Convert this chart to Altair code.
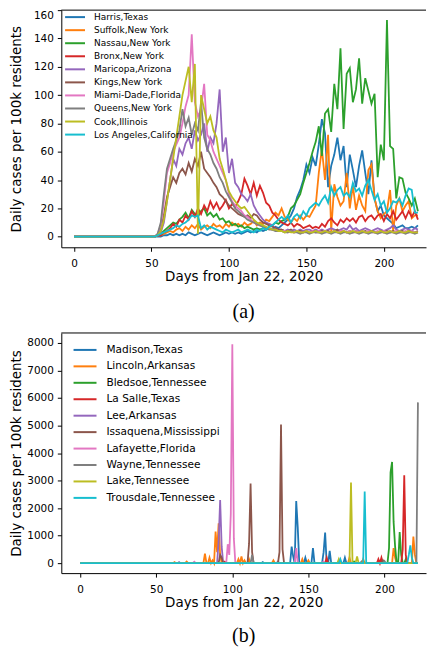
import altair as alt
import pandas as pd

# ---------------- Panel (a) data ----------------
names_a = ["Harris,Texas", "Suffolk,New York", "Nassau,New York", "Bronx,New York",
           "Maricopa,Arizona", "Kings,New York", "Miami-Dade,Florida", "Queens,New York",
           "Cook,Illinois", "Los Angeles,California"]
days_a = list(range(0, 223, 2))
lead = [0] * 24  # days 0..46: flat at zero

harris = lead + [0,0,0,0,0,1,1,2,1,2,1, 2,1,3,2,1,2,3,2,1,2,3, 2,1,2,3,2,3,2,3,2,3,4,
                 3,4,3,5,4,5,6,5,7,6,8, 10,12,15,20,28,33,40,51,45,56,50,
                 65,83,73,35,50,58,70,54,64,35,58, 47,35,50,61,45,30,54,27,18,22,15,
                 13,11,9,6,7,8,6,6,7,6,8]
suffolk = lead + [0,0,0,1,1,2,3,4,3,5,6, 4,7,5,8,6,9,5,7,8,6,9, 7,8,6,9,7,10,8,9,7,10,8,
                  9,11,8,10,9,12,11,14,17,15,20, 14,12,10,13,11,15,12,15,14,18,22,
                  45,62,40,72,4,37,28,22,25,45,20, 36,19,29,22,18,47,51,27,18,13,16,
                  18,33,4,22,27,18,22,25,13,15,15]
nassau = lead + [0,0,0,1,2,4,6,8,10,9,12, 14,17,13,19,16,14,18,20,15,17,14, 16,12,13,10,11,8,9,7,8,6,7,
                 6,5,6,5,6,5,7,8,10,9,11, 12,14,20,22,26,30,38,45,52,60,67,
                 78,57,87,90,74,108,90,133,76,115,119, 95,104,126,94,112,103,94,101,42,65,54,
                 153,64,62,27,42,41,31,27,22,27,18]
bronx = lead + [0,0,0,1,1,3,4,6,9,7,12, 10,15,12,18,14,20,16,22,18,25,20, 24,19,22,26,20,23,21,25,30,41,36,
                30,38,29,36,31,24,22,17,15,12,10, 9,8,10,7,9,8,6,7,8,6,7,
                6,9,7,11,13,10,8,12,10,13,11, 13,10,14,15,11,14,15,12,15,16,11,
                16,13,18,12,15,18,13,18,14,18,12]
maricopa = lead + [0,0,0,1,3,10,25,40,55,50,62, 58,66,70,62,75,68,72,80,60,70,66, 80,104,60,70,45,55,38,35,30,28,25,
                   30,22,18,15,12,10,9,8,6,5,5, 4,5,4,5,4,5,4,5,5,4,5,
                   4,5,4,5,6,5,4,5,6,5,8, 5,6,4,5,6,5,4,5,6,5,4,
                   5,6,8,5,4,5,6,5,4,6,5]
kings = lead + [0,0,0,1,5,15,28,35,42,38,45, 48,44,52,46,55,50,60,48,45,42,38, 35,30,28,25,22,20,18,16,15,14,15,
                13,16,15,12,10,9,8,7,6,5,5, 4,4,5,3,4,4,3,4,3,4,3,
                3,4,3,4,3,4,5,3,4,3,4, 3,4,3,3,4,3,4,3,3,4,3,
                4,3,4,3,3,4,3,4,3,3,4]
miami = lead + [0,0,0,2,8,25,45,52,60,65,70, 80,92,100,143,95,85,90,108,72,68,60, 55,50,45,40,30,25,22,20,18,15,14,
                12,10,9,8,7,6,6,5,5,4,4, 4,3,4,3,4,3,3,4,3,4,3,
                4,3,4,3,3,4,3,4,4,3,4, 3,4,3,4,3,4,3,3,4,3,4,
                3,4,3,4,3,3,4,3,4,3,3]
queens = lead + [0,0,0,2,10,30,48,55,62,68,75, 90,78,84,72,80,75,95,70,62,58,52, 48,42,38,32,28,24,20,18,16,14,12,
                 11,10,9,8,7,6,5,5,4,4,4, 3,3,4,3,3,2,3,3,2,3,3,
                 3,2,3,3,2,3,3,2,3,3,2, 3,3,2,3,3,2,3,3,2,3,3,
                 2,3,3,2,3,3,2,3,3,2,3]
cook = lead + [0,0,0,1,4,12,25,40,55,70,85, 100,110,120,95,122,2,100,90,80,85,75, 70,55,48,40,32,28,25,22,20,21,18,
               15,12,10,9,8,7,6,5,5,4,4, 3,4,3,3,4,3,3,4,3,3,4,
               3,3,4,3,3,4,3,3,4,3,3, 4,3,3,4,3,3,4,3,3,4,3,
               3,4,3,3,4,3,3,4,3,3,3]
la = lead + [0,0,0,1,2,3,4,5,6,8,7, 9,10,12,15,14,15,6,8,5,7,6, 5,4,3,5,4,3,4,5,3,4,5,
             4,3,5,4,6,5,7,8,10,12,14, 12,15,10,14,16,13,18,15,20,22,24,
             22,26,29,24,35,29,33,35,29,31,28, 38,32,34,29,36,40,33,26,30,22,25,
             17,20,25,24,27,22,29,34,33,17,17]
series_a = [harris, suffolk, nassau, bronx, maricopa, kings, miami, queens, cook, la]

# ---------------- Panel (b) data ----------------
names_b = ["Madison,Texas", "Lincoln,Arkansas", "Bledsoe,Tennessee", "La Salle,Texas",
           "Lee,Arkansas", "Issaquena,Mississippi", "Lafayette,Florida", "Wayne,Tennessee",
           "Lake,Tennessee", "Trousdale,Tennessee"]
days_b = list(range(0, 223))
madison = {139: 600, 140: 250, 142: 2260, 143: 1300, 148: 200, 153: 550, 160: 400, 161: 1115,
           164: 450, 174: 200, 120: 40, 185: 60}
lincoln = {62: 40, 70: 60, 82: 350, 85: 200, 87: 100, 89: 1150, 90: 400, 91: 1450, 92: 300,
           104: 150, 106: 250, 108: 100, 111: 150, 127: 100, 146: 150, 150: 100, 177: 200,
           186: 150, 206: 550, 207: 200, 219: 970, 220: 300}
bledsoe = {180: 60, 203: 550, 204: 3300, 205: 3675, 206: 1500, 207: 600, 210: 1130, 211: 300, 214: 150}
lasalle = {95: 50, 162: 200, 196: 150, 198: 200, 212: 500, 213: 3195, 214: 300}
lee = {65: 40, 91: 800, 92: 2290, 93: 600, 130: 60}
issaquena = {92: 300, 93: 200, 111: 700, 112: 2895, 113: 400, 131: 400, 132: 5035, 133: 500, 199: 100}
lafayette = {75: 50, 97: 690, 98: 300, 99: 1800, 100: 7950, 101: 900, 142: 550, 160: 60}
wayne = {113: 300, 200: 80, 222: 5840}
lake = {170: 150, 178: 2930, 182: 250}
trousdale = {171: 150, 187: 2600, 216: 300, 217: 650, 218: 200}
series_b = [madison, lincoln, bledsoe, lasalle, lee, issaquena, lafayette, wayne, lake, trousdale]

tab10 = ["#1f77b4", "#ff7f0e", "#2ca02c", "#d62728", "#9467bd",
         "#8c564b", "#e377c2", "#7f7f7f", "#bcbd22", "#17becf"]

rows_a = []
for name, vals in zip(names_a, series_a):
    for d, v in zip(days_a, vals):
        rows_a.append({"county": name, "day": d, "value": v})
df_a = pd.DataFrame(rows_a)

rows_b = []
for name, spikes in zip(names_b, series_b):
    for d in days_b:
        rows_b.append({"county": name, "day": d, "value": spikes.get(d, 0)})
df_b = pd.DataFrame(rows_b)

W = 366
H_A, H_B = 238, 241


def panel(df, names, H, xdom, ydom, yticks, flush, lab_size, sym_path, sym_size, row_pad,
          lab_off, lx, ly, caption, cap_off):
    lines = alt.Chart(df).mark_line(strokeWidth=1.8, clip=True).encode(
        x=alt.X("day:Q", scale=alt.Scale(domain=xdom, nice=False, zero=False),
                axis=alt.Axis(values=[0, 50, 100, 150, 200], title="Days from Jan 22, 2020")),
        y=alt.Y("value:Q", scale=alt.Scale(domain=ydom, nice=False, zero=False),
                axis=alt.Axis(values=yticks, format="d", labelFlush=flush,
                              title="Daily cases per 100k residents")),
        color=alt.Color("county:N", scale=alt.Scale(domain=names, range=tab10),
                        legend=alt.Legend(title=None, orient="none", legendX=lx, legendY=ly,
                                          symbolType=sym_path, symbolSize=sym_size,
                                          symbolStrokeWidth=2, labelFontSize=lab_size,
                                          labelFont="DejaVu Sans", labelColor="black",
                                          rowPadding=row_pad, padding=0, labelOffset=lab_off)),
    )
    top = alt.Chart(pd.DataFrame({"k": [0]})).mark_rule(color="black", strokeWidth=1).encode(
        x=alt.value(0), x2=alt.value(W), y=alt.value(0))
    return alt.layer(lines, top).properties(
        width=W, height=H,
        title=alt.TitleParams(caption, orient="bottom", anchor="middle", font="Liberation Serif",
                              fontSize=20, fontWeight="normal", color="black", offset=cap_off))


pa = panel(df_a, names_a, H_A, [-8.2, 227.2], [-7.5, 160], list(range(0, 161, 20)), True,
           9, "M-2,0H2", 100, 2.1, 13, 7.8, 1, "(a)", 19)
pb = panel(df_b, names_b, H_B, [-12.4, 227.3], [-360, 8360], list(range(0, 8001, 1000)), False,
           10.6, "M-1.92,0H1.92", 144, 3.5, 14.5, 16.8, 10, "(b)", 17)

chart = alt.ConcatChart(concat=[pa, pb], columns=1, align="none", spacing=10).resolve_scale(
    color="independent"
).resolve_legend(color="independent").properties(
    padding={"left": 1.5, "top": 0, "right": 0, "bottom": 0}
).configure_axis(
    domainColor="black", tickColor="black", labelColor="black", titleColor="black",
    labelFont="DejaVu Sans", titleFont="DejaVu Sans", labelFontSize=10.5, titleFontSize=13.5,
    titleFontWeight="normal", grid=False, tickSize=4, labelPadding=4, domainWidth=1, tickWidth=1
).configure_axisY(titlePadding=3, minExtent=35, maxExtent=35).configure_axisX(
    labelPadding=7, titlePadding=1).configure_view(stroke=None)

chart.save("out.html", embed_options={"renderer": "svg", "actions": False})
